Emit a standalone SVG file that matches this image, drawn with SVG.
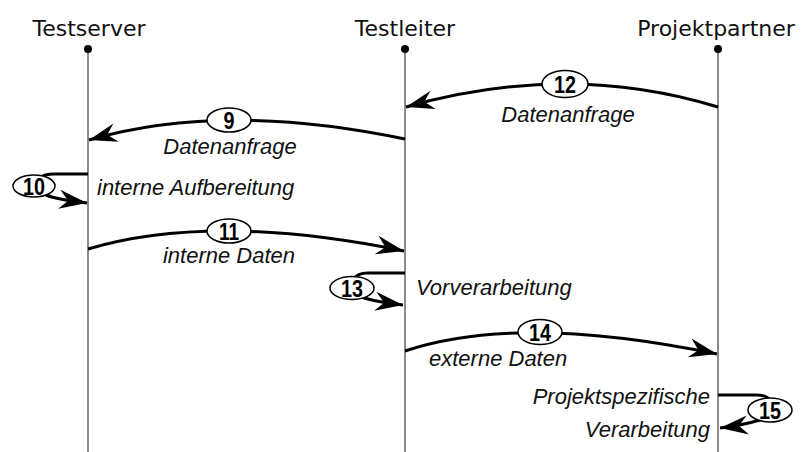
<svg xmlns="http://www.w3.org/2000/svg" width="801" height="452" viewBox="0 0 801 452">
<defs>
<marker id="ah" markerUnits="userSpaceOnUse" markerWidth="40" markerHeight="30" viewBox="-30 -15 40 30" refX="0" refY="0" orient="auto" overflow="visible">
<path d="M0,0 L-28,-10 L-19,0 L-28,9 Z" fill="#000"/>
</marker>
<style>
.life{stroke:#666;stroke-width:1.5;fill:none}
.dot{fill:#000}
.hdr{font-family:"DejaVu Sans",sans-serif;font-size:22px;fill:#111;text-anchor:middle}
.arr{stroke:#000;stroke-width:3;fill:none}
.ell{fill:#fff;stroke:#000;stroke-width:1.5}
.num{font-family:"Liberation Sans",Arial,sans-serif;font-weight:bold;font-size:23px;text-anchor:middle;fill:#000}
.lbl{font-family:"Liberation Sans",Arial,sans-serif;font-style:italic;font-size:22px;fill:#111}
</style>
</defs>
<rect width="801" height="452" fill="#fff"/>
<g id="testserver">
<text class="hdr" x="89" y="36">Testserver</text>
<line class="life" x1="88" y1="49" x2="88" y2="452"/>
<circle class="dot" cx="88" cy="49" r="4"/>
</g>
<g id="testleiter">
<text class="hdr" x="405" y="36">Testleiter</text>
<line class="life" x1="405" y1="49" x2="405" y2="452"/>
<circle class="dot" cx="405" cy="49" r="4"/>
</g>
<g id="projektpartner">
<text class="hdr" x="716" y="36">Projektpartner</text>
<line class="life" x1="718" y1="49" x2="718" y2="452"/>
<circle class="dot" cx="718" cy="49" r="4"/>
</g>
<g id="connectors">
<path class="arr" d="M718,107 Q568,61 406,107" marker-end="url(#ah)"/>
<path class="arr" d="M405,139 Q223,101 89,140" marker-end="url(#ah)"/>
<path class="arr" d="M88,174 L54,174 C46,174 42,176 40,178"/>
<path class="arr" d="M46,195 C56,199 70,201 87,203" marker-end="url(#ah)"/>
<path class="arr" d="M88,249 Q212,212 404,251" marker-end="url(#ah)"/>
<path class="arr" d="M405,273 L368,273 C360,273 356,275 354,279"/>
<path class="arr" d="M362,297 C372,301 386,303 403,305" marker-end="url(#ah)"/>
<path class="arr" d="M405,351 Q518,313 717,354" marker-end="url(#ah)"/>
<path class="arr" d="M718,395 L756,395 C764,395 768,397 770,400"/>
<path class="arr" d="M760,420 C750,423 736,426 720,428" marker-end="url(#ah)"/>
</g>
<g id="msg12">
<ellipse class="ell" cx="565" cy="84" rx="23" ry="13.5"/>
<text class="num" x="565" y="92.5" textLength="22" lengthAdjust="spacingAndGlyphs">12</text>
<text class="lbl" x="568" y="122" text-anchor="middle">Datenanfrage</text>
</g>
<g id="msg9">
<ellipse class="ell" cx="229" cy="120" rx="22" ry="12"/>
<text class="num" x="229" y="128.5" textLength="11" lengthAdjust="spacingAndGlyphs">9</text>
<text class="lbl" x="230" y="154" text-anchor="middle">Datenanfrage</text>
</g>
<g id="msg10">
<ellipse class="ell" cx="34" cy="186" rx="21" ry="11"/>
<text class="num" x="34" y="194.5" textLength="22" lengthAdjust="spacingAndGlyphs">10</text>
<text class="lbl" x="97" y="195">interne Aufbereitung</text>
</g>
<g id="msg11">
<ellipse class="ell" cx="229" cy="231" rx="22" ry="12"/>
<text class="num" x="229" y="239.5" textLength="20" lengthAdjust="spacingAndGlyphs">11</text>
<text class="lbl" x="229" y="263" text-anchor="middle">interne Daten</text>
</g>
<g id="msg13">
<ellipse class="ell" cx="352" cy="288" rx="22" ry="11.5"/>
<text class="num" x="352" y="296.5" textLength="22" lengthAdjust="spacingAndGlyphs">13</text>
<text class="lbl" x="416" y="295">Vorverarbeitung</text>
</g>
<g id="msg14">
<ellipse class="ell" cx="540" cy="332" rx="22" ry="12.5"/>
<text class="num" x="540" y="340.5" textLength="22" lengthAdjust="spacingAndGlyphs">14</text>
<text class="lbl" x="429" y="366">externe Daten</text>
</g>
<g id="msg15">
<ellipse class="ell" cx="770" cy="410" rx="22" ry="12"/>
<text class="num" x="770" y="418.5" textLength="22" lengthAdjust="spacingAndGlyphs">15</text>
<text class="lbl" x="710" y="404" text-anchor="end">Projektspezifische</text>
<text class="lbl" x="710" y="437" text-anchor="end">Verarbeitung</text>
</g>
</svg>
